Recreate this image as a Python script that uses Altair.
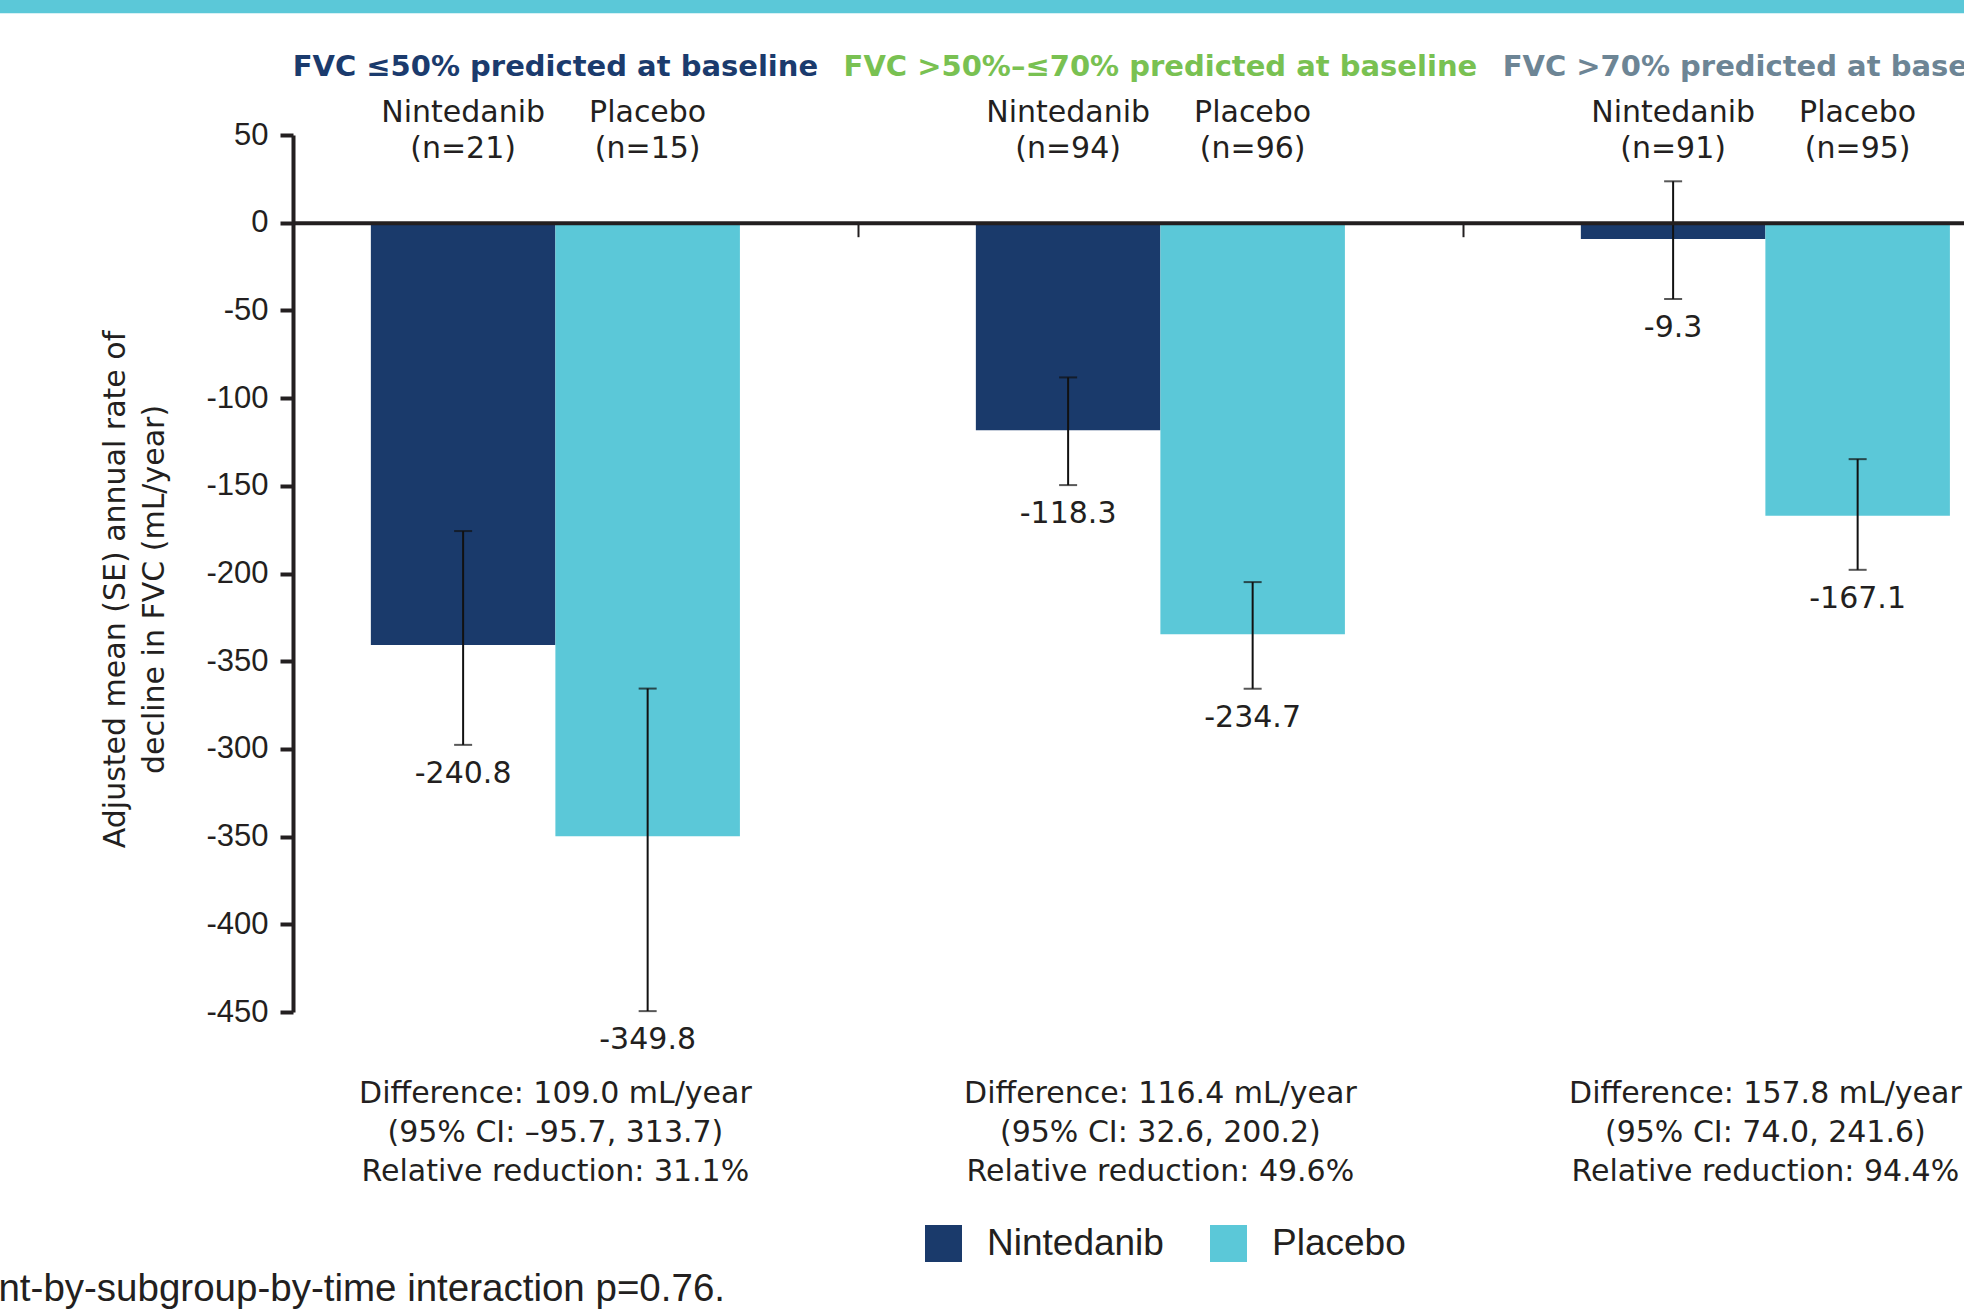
import altair as alt
import pandas as pd

# ---- data -------------------------------------------------------------
groups = [
    "FVC ≤50% predicted at baseline",
    "FVC >50%–≤70% predicted at baseline",
    "FVC >70% predicted at baseline",
]
group_colors = ["#1B3B6D", "#79C152", "#6D8595"]

treatments = ["Nintedanib", "Placebo"]
treatment_colors = ["#1A3A6B", "#5BC8D8"]

n_nintedanib = [21, 94, 91]
n_placebo = [15, 96, 95]

mean_nintedanib = [-240.8, -118.3, -9.3]
mean_placebo = [-349.8, -234.7, -167.1]

# ends of the SE bars (upper, lower)
se_upper_nintedanib = [-175.8, -88.2, 23.6]
se_lower_nintedanib = [-297.7, -149.6, -43.5]
se_upper_placebo = [-265.6, -204.9, -134.8]
se_lower_placebo = [-449.5, -265.7, -197.9]

differences = [109.0, 116.4, 157.8]
ci_low = [-95.7, 32.6, 74.0]
ci_high = [313.7, 200.2, 241.6]
relative_reduction = [31.1, 49.6, 94.4]

y_ticks = [50, 0, -50, -100, -150, -200, -250, -300, -350, -400, -450]
y_tick_text = ["50", "0", "-50", "-100", "-150", "-200", "-350", "-300", "-350", "-400", "-450"]

y_title = ["Adjusted mean (SE) annual rate of", "decline in FVC (mL/year)"]
footnote = "Treatment-by-subgroup-by-time interaction p=0.76."

# ---- layout -----------------------------------------------------------
PLOT_W, PLOT_H = 1671, 877
PAD = {"left": 293, "top": 135, "right": 0, "bottom": 302}
BAR_W = 0.305                      # bar width in group units
X_DOMAIN = [-0.4337, 2.3283]
Y_DOMAIN = [-450, 50]
INK = "#231F20"
TEXT_FONT = "DejaVu Sans"

y_zero_px = PLOT_H * Y_DOMAIN[1] / (Y_DOMAIN[1] - Y_DOMAIN[0])

# ---- tables -----------------------------------------------------------
rows = []
for i, g in enumerate(groups):
    for t, m, up, lo, n in (
        ("Nintedanib", mean_nintedanib[i], se_upper_nintedanib[i], se_lower_nintedanib[i], n_nintedanib[i]),
        ("Placebo", mean_placebo[i], se_upper_placebo[i], se_lower_placebo[i], n_placebo[i]),
    ):
        left = i - BAR_W if t == "Nintedanib" else i
        rows.append({
            "group": g,
            "treatment": t,
            "x0": left,
            "x1": left + BAR_W,
            "xc": left + BAR_W / 2,
            "mean": m,
            "base": 0.0,
            "upper": up,
            "lower": lo,
            "label": f"{m:.1f}",
            "header": f"{t}\n(n={n})",
        })
bars = pd.DataFrame(rows)

summary = pd.DataFrame({
    "idx": list(range(len(groups))),
    "group": groups,
    "color": group_colors,
    "diff": [
        f"Difference: {d:.1f} mL/year\n(95% CI: {lo:.1f}, {hi:.1f})\nRelative reduction: {r:.1f}%".replace("CI: -", "CI: –")
        for d, lo, hi, r in zip(differences, ci_low, ci_high, relative_reduction)
    ],
})

boundaries = [i + 0.5 for i in range(len(groups) - 1)]

label_expr = " : ".join(f"datum.value == {v} ? '{t}'" for v, t in zip(y_ticks, y_tick_text)) + " : ''"

x_scale = alt.Scale(domain=X_DOMAIN, nice=False, zero=False)
y_scale = alt.Scale(domain=Y_DOMAIN, nice=False, zero=False)

x_axis = alt.Axis(
    values=boundaries, labels=False, title=None, grid=False,
    domainColor=INK, domainWidth=4, tickColor=INK, tickWidth=2, tickSize=14,
    offset=-(PLOT_H - y_zero_px), zindex=1,
)
y_axis = alt.Axis(
    values=y_ticks, labelExpr=label_expr, grid=False,
    domainColor=INK, domainWidth=4, tickColor=INK, tickWidth=4, tickSize=13,
    labelPadding=12, labelFont="Liberation Sans", labelFontSize=31, labelColor=INK,
    title=y_title, titleFont=TEXT_FONT, titleFontSize=30, titleFontWeight="normal",
    titleColor=INK, titleAngle=270, titleAlign="center", titleBaseline="middle",
    titleX=-178, titleY=454, titleLineHeight=39,
)

base = alt.Chart(bars)

band = alt.Chart(pd.DataFrame({"k": [0]})).mark_rect(color="#5BC8D8").encode(
    x=alt.value(-PAD["left"]), x2=alt.value(PLOT_W),
    y=alt.value(-PAD["top"]), y2=alt.value(-PAD["top"] + 13.3),
)

bar_layer = base.mark_rect().encode(
    x=alt.X("x0:Q", scale=x_scale, axis=x_axis),
    x2="x1:Q",
    y=alt.Y("mean:Q", scale=y_scale, axis=y_axis),
    y2="base:Q",
    color=alt.Color(
        "treatment:N",
        scale=alt.Scale(domain=treatments, range=treatment_colors),
        legend=alt.Legend(
            title=None, orient="none", direction="horizontal",
            legendX=632, legendY=1090, padding=0,
            symbolType="square", symbolSize=1369, symbolStrokeWidth=0,
            labelFont="Liberation Sans", labelFontSize=37, labelColor=INK,
            labelOffset=25, columnPadding=46, labelLimit=600,
        ),
    ),
)

err_rule = base.mark_rule(color="#111111", strokeWidth=2).encode(
    x="xc:Q", y="upper:Q", y2="lower:Q"
)
err_caps = base.transform_fold(["upper", "lower"], as_=["end", "val"]).mark_tick(
    orient="horizontal", size=18, thickness=2, color="#111111"
).encode(x="xc:Q", y="val:Q")

value_labels = base.mark_text(
    font=TEXT_FONT, fontSize=30, color=INK, baseline="middle", dy=29
).encode(x="xc:Q", y="lower:Q", text="label:N")

headers = base.mark_text(
    font=TEXT_FONT, fontSize=30, color=INK, baseline="alphabetic",
    lineBreak="\n", lineHeight=35.5,
).encode(x="xc:Q", y=alt.value(-12.7), text="header:N")

titles = alt.Chart(summary).mark_text(
    font=TEXT_FONT, fontSize=29, fontWeight="bold", baseline="alphabetic"
).encode(
    x="idx:Q", y=alt.value(-59), text="group:N",
    color=alt.Color("color:N", scale=None, legend=None),
)

diff_text = alt.Chart(summary).mark_text(
    font=TEXT_FONT, fontSize=30, color=INK, baseline="alphabetic",
    lineBreak="\n", lineHeight=39,
).encode(x="idx:Q", y=alt.value(967.5), text="diff:N")

note = alt.Chart(pd.DataFrame({"t": [footnote]})).mark_text(
    font="Liberation Sans", fontSize=38.5, color=INK, align="right", baseline="alphabetic"
).encode(x=alt.value(432), y=alt.value(1165.7), text="t:N")

chart = (
    alt.layer(band, bar_layer, err_rule, err_caps, value_labels, headers, titles, diff_text, note)
    .resolve_scale(color="independent")
    .properties(
        width=PLOT_W, height=PLOT_H,
        autosize=alt.AutoSizeParams(type="none"),
        padding=PAD, background="white",
    )
    .configure_view(stroke=None)
)

chart.save("out.html", embed_options={"renderer": "svg", "actions": False})
